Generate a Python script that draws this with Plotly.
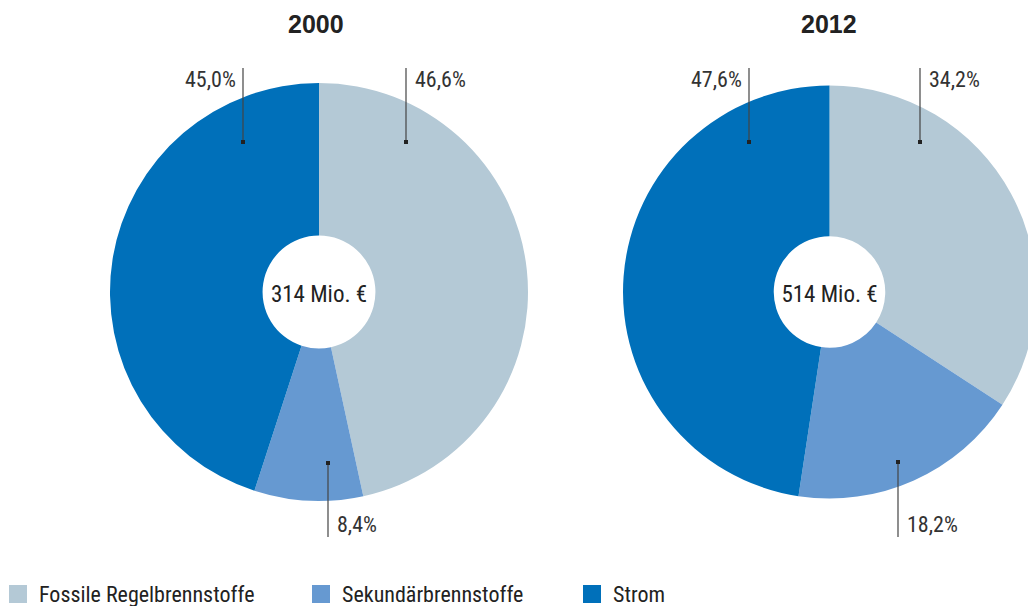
import plotly.graph_objects as go

# page body has an 8px margin, so the figure is drawn 8px in from the window edge
OFF = 8
W, H = 1036 - OFF, 606 - OFF
FONT = "Liberation Sans Narrow, Roboto Condensed, Arial Narrow, sans-serif"

categories = ["Fossile Regelbrennstoffe", "Sekundärbrennstoffe", "Strom"]
colors = ["#B4C9D6", "#6699D1", "#0070BA"]
years = ["2000", "2012"]
totals = ["314 Mio. €", "514 Mio. €"]
shares_2000 = [46.6, 8.4, 45.0]
shares_2012 = [34.2, 18.2, 47.6]

# pie placement in window pixels: (left, top, right, bottom)
boxes = [(110, 83, 528, 501), (623, 83, 1041, 501)]
# leader lines per slice: (x, dot_y, end_y, text side)
leaders = [
    [(406, 142, 68, "right"), (328, 463, 537, "right"), (243, 142, 68, "left")],
    [(920, 142, 68, "right"), (898, 462, 537, "right"), (749, 142, 68, "left")],
]
# legend square left edges, in window pixels
legend_x = [9, 312, 583]
legend_y = 594


def px(x):
    return (x - OFF) / W


def py(y):
    return 1 - (y - OFF) / H


def pct(v):
    return f"{v:.1f}%".replace(".", ",")


fig = go.Figure()
for i, (vals, box) in enumerate(zip([shares_2000, shares_2012], boxes)):
    l, t, r, b = box
    fig.add_trace(go.Pie(
        labels=categories,
        values=vals,
        sort=False,
        direction="clockwise",
        rotation=0,
        hole=0.27,
        marker=dict(colors=colors, line=dict(width=0)),
        textinfo="none",
        hoverinfo="label+percent",
        showlegend=False,
        domain=dict(x=[px(l), min(px(r), 1)], y=[py(b), py(t)]),
        title=dict(text=totals[i], position="middle center",
                   font=dict(family=FONT, size=23, color="#222")),
    ))
    cx = (l + r) / 2 - 3
    fig.add_annotation(x=px(cx), y=py(24), xref="paper", yref="paper",
                       xanchor="center", yanchor="middle",
                       text=f"<b>{years[i]}</b>", showarrow=False,
                       font=dict(family="Liberation Sans, Arial, sans-serif", size=25, color="#222"))
    for v, (lx, dy, ey, side) in zip(vals, leaders[i]):
        fig.add_shape(type="line", xref="paper", yref="paper",
                      x0=px(lx), x1=px(lx), y0=py(dy), y1=py(ey),
                      line=dict(color="#444", width=1.2))
        fig.add_shape(type="rect", xref="paper", yref="paper",
                      x0=px(lx - 2), x1=px(lx + 2), y0=py(dy - 2), y1=py(dy + 2),
                      fillcolor="#222", line=dict(width=0))
        ty = ey + 11 if ey < dy else ey - 13
        fig.add_annotation(
            x=px(lx + 7) if side == "right" else px(lx - 5), y=py(ty),
            xref="paper", yref="paper", showarrow=False,
            xanchor="left" if side == "right" else "right", yanchor="middle",
            text=pct(v), font=dict(family=FONT, size=22, color="#333"),
        )

# legend: colour squares with category names
for name, col, lx in zip(categories, colors, legend_x):
    fig.add_shape(type="rect", xref="paper", yref="paper",
                  x0=px(lx), x1=px(lx + 18), y0=py(legend_y - 9), y1=py(legend_y + 9),
                  fillcolor=col, line=dict(width=0))
    fig.add_annotation(x=px(lx + 28), y=py(legend_y), xref="paper", yref="paper",
                       xanchor="left", yanchor="middle", showarrow=False,
                       text=name, font=dict(family=FONT, size=22, color="#222"))

fig.update_layout(
    width=W, height=H,
    margin=dict(l=0, r=0, t=0, b=0),
    paper_bgcolor="white",
    plot_bgcolor="white",
    font=dict(family=FONT, color="#222"),
    showlegend=False,
)

fig.write_html("out.html")
